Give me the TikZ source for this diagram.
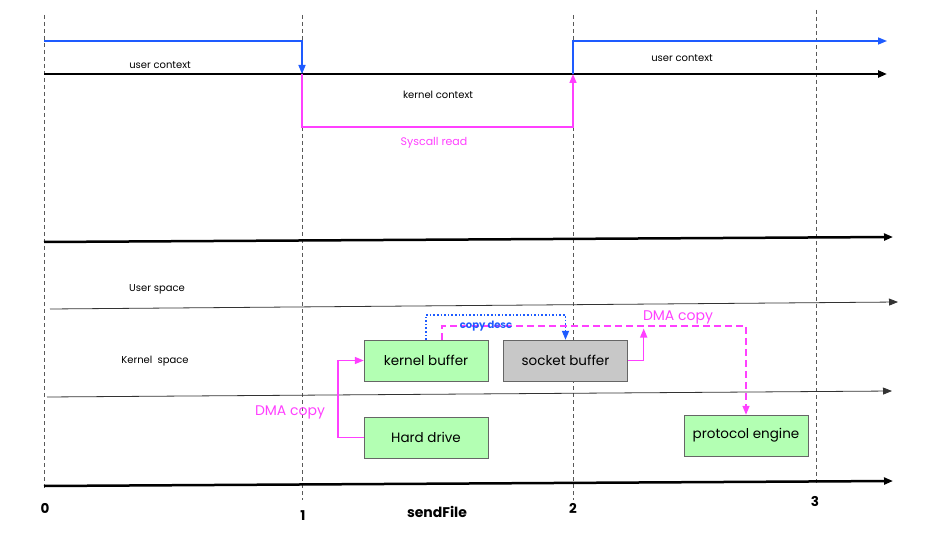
\documentclass[tikz,border=0pt]{standalone}
\usepackage{fontspec}
\setmainfont{Poppins}
\usetikzlibrary{arrows.meta}
\definecolor{pinkline}{HTML}{FF40FF}
\definecolor{blueline}{HTML}{1E5BFF}
\definecolor{boxgreen}{HTML}{B3FFB3}
\definecolor{boxgray}{HTML}{C8C8C8}

\begin{document}
\begin{tikzpicture}[x=1pt,y=-1pt,
    tip/.style={-{Triangle[length=9pt,width=7pt]}},
    small/.style={font=\fontsize{10}{12}\selectfont},
    buf/.style={draw=black!60,fill=boxgreen,minimum width=124pt,minimum height=41pt,
      inner sep=0pt,font=\fontsize{13.5}{16}\selectfont},
    tick/.style={font=\bfseries\fontsize{13.5}{15}\selectfont}]
      \useasboundingbox (0,0) rectangle (925,534);
      % time marks
      \foreach \x/\top/\bot in {44/15/488, 302/15/500, 573/15/500, 816/10/485}
        \draw[gray!70!black, dash pattern=on 4pt off 3pt] (\x,\top) -- (\x,\bot);
      \node[tick] (T0) at (45,508) {0};
      \node[tick] (T1) at (303,516) {1};
      \node[tick] (T2) at (573,508) {2};
      \node[tick] (T3) at (815,501) {3};
      \node[font=\bfseries\fontsize{14}{16}\selectfont] (F) at (437,512) {sendFile};
      % contexts
      \draw[line width=2.5pt, tip] (44,74) -- (887,74);
      \draw[blueline, line width=1.5pt, tip] (44,41) -- (302,41) -- (302,74);
      \draw[pinkline, line width=1.5pt, tip] (302,74) -- (302,127) -- (573,127) -- (573,74);
      \draw[blueline, line width=1.5pt, tip] (573,74) -- (573,41) -- (887,41);
      \node[small] (UC) at (160,65) {user context};
      \node[small] (KC) at (438,95) {kernel context};
      \node[small] (UC2) at (682,58) {user context};
      \node[small, text=pinkline, font=\fontsize{11}{13}\selectfont] (SR) at (434,143) {Syscall read};
      % spaces
      \draw[line width=2.5pt, tip] (44,242) -- (893,237);
      \draw[black!80, line width=0.8pt, tip] (50,309) -- (898,302);
      \draw[black!80, line width=0.8pt, tip] (47,397) -- (892,391);
      \draw[line width=2.5pt, tip] (44,486) -- (893,481);
      \node[small] (US) at (157,289) {User space};
      \node[small] (KS) at (155,361) {Kernel\ \ space};
      % buffers
      \node[buf] (K) at (426,360.5) {kernel buffer};
      \node[buf, fill=boxgray] (S) at (565.5,360.5) {socket buffer};
      \node[buf] (H) at (426,437.5) {Hard drive};
      \node[buf] (P) at (746,435.5) {protocol engine};
      \draw[pinkline, line width=1.5pt, tip] (H.west) -- ++(-26,0) |- (K.west);
      \node[text=pinkline, font=\fontsize{14}{16}\selectfont] (D1) at (290,412) {DMA copy};
      \draw[blueline, line width=1.6pt, dotted, tip] (K.north) -- ++(0,-25) -| (S.north);
      \draw[pinkline, line width=1.5pt, dash pattern=on 7pt off 4pt, tip] ([xshift=16pt]K.north) -- ++(0,-14) -| (P.north);
      \node[text=blueline, font=\bfseries\fontsize{10}{12}\selectfont] (CD) at (486,326) {copy desc};
      \draw[pinkline, line width=1.5pt, tip] (S.east) -- ++(16,0) -- ++(0,-32);
      \node[text=pinkline, font=\fontsize{14}{16}\selectfont] (D2) at (678,317) {DMA copy};
    \end{tikzpicture}
\end{document}
